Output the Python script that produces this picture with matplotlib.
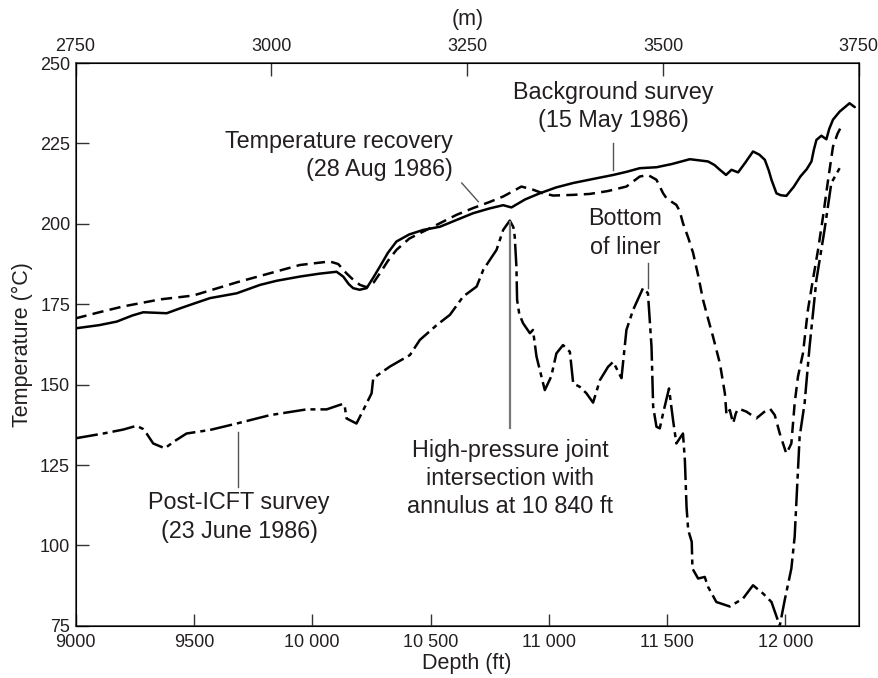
import matplotlib
matplotlib.use("Agg")
import matplotlib.pyplot as plt

plt.rcParams["font.family"] = ["Liberation Sans", "DejaVu Sans"]

# Background survey (15 May 1986) - solid
bg_depth = [9000, 9100, 9174, 9240, 9286, 9385, 9441, 9500, 9568, 9681, 9779, 9850,
            9948, 10030, 10103, 10131, 10155, 10173, 10200, 10230, 10260, 10286, 10320,
            10356, 10410, 10469, 10540, 10610, 10680, 10750, 10807, 10842, 10900, 10962,
            11030, 11103, 11190, 11272, 11330, 11384, 11455, 11520, 11596, 11673, 11700,
            11723, 11749, 11772, 11800, 11830, 11863, 11890, 11913, 11930, 11941, 11962,
            11980, 12004, 12035, 12063, 12090, 12110, 12120, 12131, 12152, 12173, 12185,
            12201, 12229, 12271, 12293]
bg_temp = [167.5, 168.5, 169.6, 171.5, 172.5, 172.2, 173.7, 175.2, 176.9, 178.4, 181.0, 182.3,
           183.6, 184.5, 185.1, 183.6, 181.2, 180.0, 179.5, 180.0, 183.5, 186.7, 191.0,
           194.5, 196.7, 198.1, 199.1, 201.2, 203.3, 204.8, 205.8, 205.1, 207.6, 209.5,
           211.3, 212.7, 214.0, 215.2, 216.2, 217.3, 217.6, 218.6, 220.1, 219.4, 218.3,
           216.8, 215.2, 216.8, 216.0, 219.0, 222.5, 221.5, 219.9, 216.5, 213.7, 209.5,
           208.9, 208.7, 211.5, 214.7, 217.0, 219.4, 223.0, 226.1, 227.4, 226.3, 229.5,
           232.4, 234.9, 237.5, 236.3]

# Temperature recovery (28 Aug 1986) - dashed
rec_depth = [9000, 9100, 9200, 9357, 9497, 9681, 9800, 9948, 10074, 10110, 10145, 10175,
             10202, 10230, 10260, 10286, 10320, 10356, 10410, 10469, 10540, 10610, 10680,
             10750, 10807, 10850, 10884, 10934, 10970, 11018, 11100, 11173, 11250, 11328,
             11384, 11419, 11455, 11483, 11497, 11520, 11539, 11553, 11567, 11590, 11610,
             11631, 11652, 11673, 11694, 11723, 11744, 11751, 11765, 11779, 11790, 11800,
             11835, 11877, 11910, 11934, 11955, 11976, 12004, 12025, 12039, 12053, 12074,
             12095, 12116, 12138, 12159, 12180, 12201, 12220, 12236, 12241]
rec_temp = [170.6, 172.5, 174.3, 176.5, 177.7, 181.8, 184.2, 187.2, 188.3, 187.5, 184.6, 182.5,
            181.0, 180.3, 181.8, 184.6, 188.5, 191.9, 195.4, 197.6, 200.2, 202.8, 204.9,
            206.8, 208.5, 210.2, 211.6, 210.6, 209.6, 208.8, 209.0, 209.3, 210.2, 211.6,
            214.7, 215.2, 213.7, 209.5, 208.0, 206.8, 205.9, 204.0, 200.2, 195.5, 190.9,
            184.0, 176.3, 170.5, 164.9, 156.6, 147.3, 140.5, 142.1, 137.9, 141.0, 142.6,
            141.6, 139.5, 141.5, 142.6, 140.5, 134.8, 128.5, 131.7, 144.2, 152.5, 159.7,
            173.2, 182.6, 192.0, 202.3, 213.5, 224.0, 228.0, 230.3, 230.8]

# Post-ICFT survey (23 June 1986) - dash-dot
icft_depth = [9000, 9117, 9200, 9258, 9285, 9300, 9328, 9377, 9420, 9469, 9568, 9681,
              9821, 9976, 10061, 10117, 10131, 10138, 10145, 10187, 10216, 10251, 10258,
              10328, 10413, 10455, 10526, 10582, 10638, 10695, 10723, 10779, 10807, 10835,
              10850, 10856, 10863, 10866, 10875, 10891, 10920, 10933, 10948, 10983, 11010,
              11032, 11060, 11089, 11103, 11131, 11159, 11187, 11216, 11250, 11272, 11307,
              11328, 11356, 11398, 11419, 11434, 11441, 11455, 11469, 11483, 11508, 11525,
              11539, 11567, 11575, 11582, 11589, 11604, 11607, 11631, 11659, 11673, 11708,
              11765, 11821, 11863, 11906, 11941, 11976, 11997, 12025, 12039, 12060, 12081,
              12102, 12131, 12165, 12194, 12229]
icft_temp = [133.3, 134.8, 136.0, 137.2, 136.2, 134.8, 131.7, 130.2, 132.5, 134.8, 135.9, 137.9,
             140.5, 142.3, 142.3, 143.7, 144.0, 143.0, 139.5, 137.9, 142.1, 147.3, 152.0,
             155.6, 159.2, 163.9, 168.5, 171.7, 177.4, 180.5, 185.7, 191.9, 198.1, 201.0,
             199.0, 196.0, 186.7, 176.3, 172.0, 169.1, 166.0, 167.0, 158.7, 148.3, 152.5,
             159.7, 162.3, 160.2, 150.4, 149.3, 147.3, 144.4, 151.4, 155.5, 157.1, 152.0,
             167.0, 173.2, 180.0, 178.4, 161.8, 143.1, 136.9, 136.4, 141.1, 148.8, 139.0,
             131.7, 134.8, 126.5, 112.0, 104.8, 101.1, 92.8, 89.7, 90.2, 87.1, 82.4,
             81.0, 83.5, 87.6, 85.0, 82.4, 75.0, 83.0, 92.8, 102.7, 133.8, 144.2,
             161.8, 182.6, 198.0, 212.7, 217.3]

depth_ticks = [9000, 9500, 10000, 10500, 11000, 11500, 12000]
depth_ticklabels = ["9000", "9500", "10 000", "10 500", "11 000", "11 500", "12 000"]
metre_ticks = [2750, 3000, 3250, 3500, 3750]
temp_ticks = [75, 100, 125, 150, 175, 200, 225, 250]

TXT = "#231f20"
PTR = "#555555"

fig = plt.figure(figsize=(8.79, 6.78), dpi=100)
ax = fig.add_axes([0.086, 0.077, 0.891, 0.830])

ax.plot(bg_depth, bg_temp, color="black", lw=1.8, solid_capstyle="round")
ax.plot(rec_depth, rec_temp, color="black", lw=1.8, linestyle=(0, (4.5, 2.5)))
ax.plot(icft_depth, icft_temp, color="black", lw=1.8, linestyle=(0, (9, 2, 2, 2)))

ax.set_xlim(9000, 12310)
ax.set_ylim(75, 250)
ax.set_xticks(depth_ticks)
ax.set_xticklabels(depth_ticklabels)
ax.set_yticks(temp_ticks)
ax.tick_params(direction="in", length=9, width=1.0, color="#333333",
               labelsize=13, labelcolor=TXT, pad=4)
ax.tick_params(axis="x", pad=6)
ax.set_xlabel("Depth (ft)", fontsize=15.5, color=TXT, labelpad=1)
ax.set_ylabel("Temperature (°C)", fontsize=15.5, color=TXT, labelpad=5)
for s in ax.spines.values():
    s.set_color("#333333")
    s.set_linewidth(1.1)

top = ax.twiny()
top.set_xlim(2750, 3750)
top.set_xticks(metre_ticks)
top.tick_params(direction="in", length=9, width=1.0, color="#333333",
                labelsize=13, labelcolor=TXT, pad=6)
top.set_xlabel("(m)", fontsize=15.5, color=TXT, labelpad=9)

# pointer lines
ax.plot([10632, 10702], [212.7, 206.9], color=PTR, lw=1.0)
ax.plot([11270, 11270], [225.1, 216.8], color=PTR, lw=1.0)
ax.plot([11420, 11420], [187.8, 180.0], color=PTR, lw=1.0)
ax.plot([10836, 10836], [200.5, 136.4], color="#777777", lw=1.6)
ax.plot([9687, 9687], [135.4, 118.2], color=PTR, lw=1.0)

fs = 16.8
ls = 1.3
ax.text(10596, 221.2, "Temperature recovery\n(28 Aug 1986)", ha="right", va="center",
        multialignment="right", fontsize=fs, color=TXT, linespacing=ls)
ax.text(11271, 236.5, "Background survey\n(15 May 1986)", ha="center", va="center",
        fontsize=fs, color=TXT, linespacing=ls)
ax.text(11322, 197.1, "Bottom\nof liner", ha="center", va="center",
        fontsize=fs, color=TXT, linespacing=ls)
ax.text(10836, 120.8, "High-pressure joint\nintersection with\nannulus at 10 840 ft",
        ha="center", va="center", fontsize=fs, color=TXT, linespacing=ls)
ax.text(9691, 108.8, "Post-ICFT survey\n(23 June 1986)", ha="center", va="center",
        fontsize=fs, color=TXT, linespacing=ls)

fig.savefig("out.png", dpi=100)
